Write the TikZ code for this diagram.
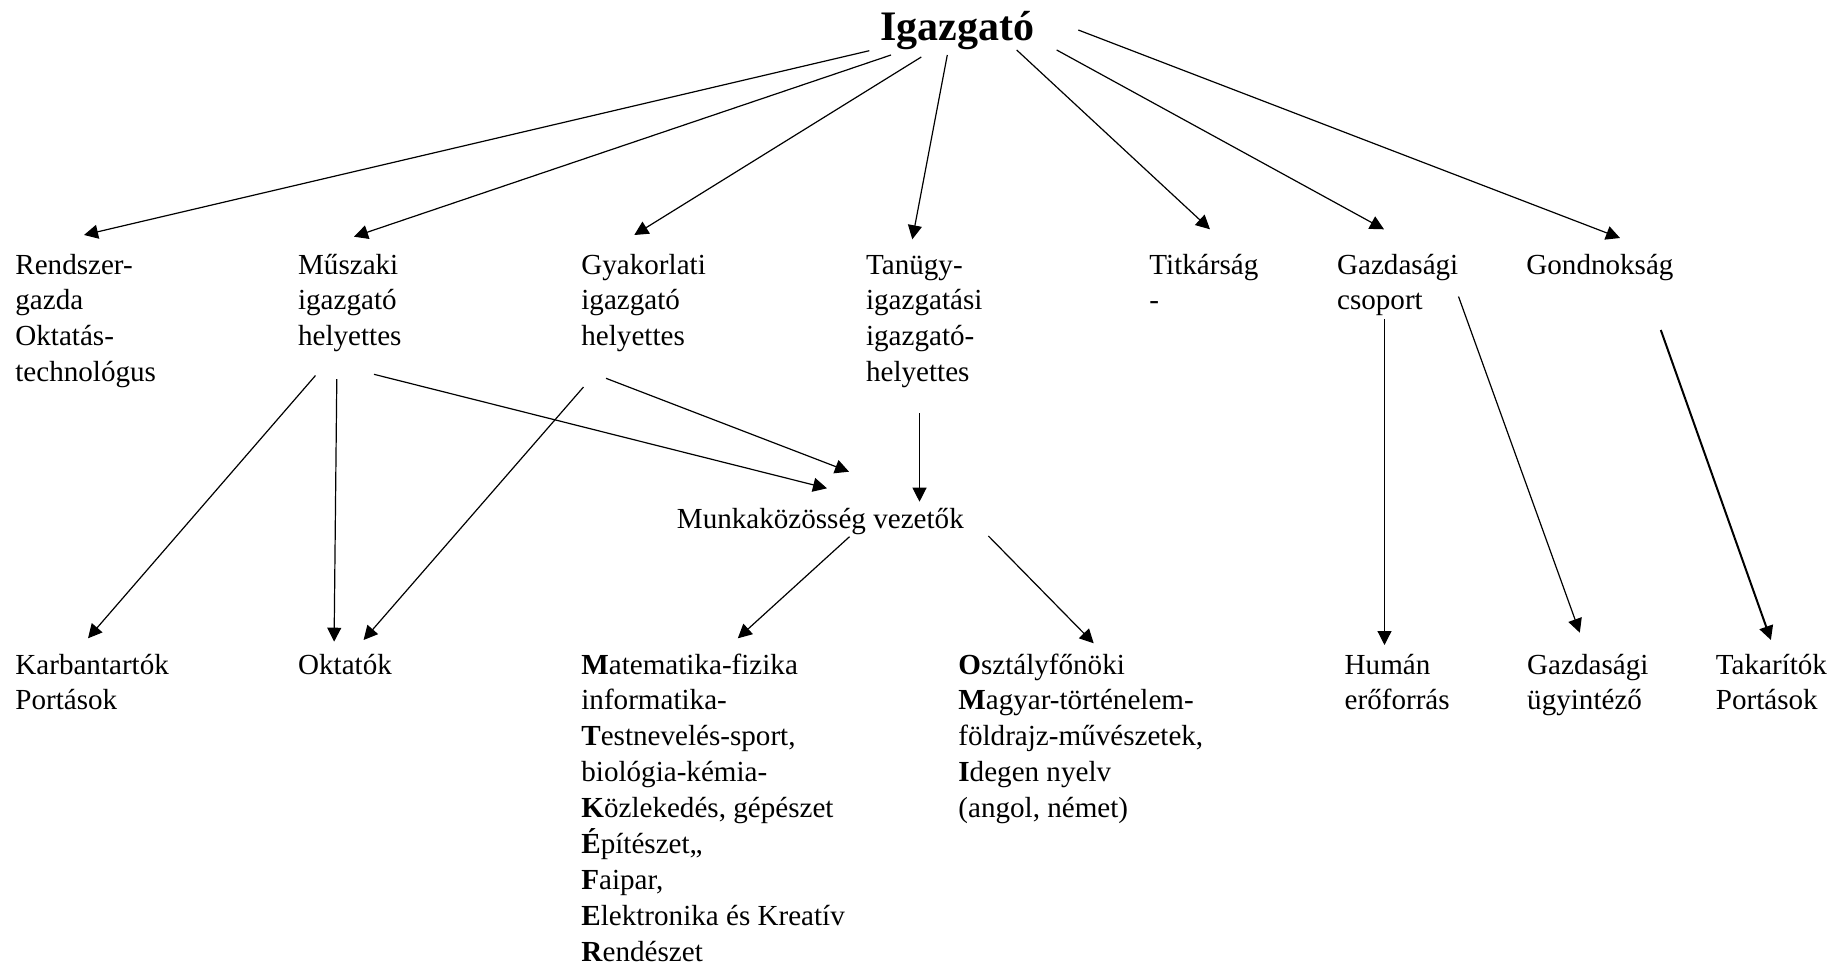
\documentclass[tikz,border=0pt]{standalone}
\usepackage{fontspec}
\setmainfont{Liberation Serif}
\usetikzlibrary{arrows.meta}
\begin{document}
\begin{tikzpicture}[x=0.5pt,y=-0.5pt,
  lbl/.style={anchor=base west, align=left, inner sep=0pt, font=\fontsize{14.55}{17.95}\selectfont},
  headlbl/.style={anchor=base west, inner sep=0pt, font=\fontsize{21}{25}\selectfont\bfseries},
  conn/.style={-{Triangle[length=7pt,width=7pt]}, line width=0.6pt},
  boldconn/.style={conn, line width=1pt}]
\useasboundingbox (0,0) rectangle (1843,970);

% nodes (anchor = baseline of the last line)
\node[headlbl] (ig) at (880,40.7) {Igazgató};
\node[lbl] (rendszer) at (15,381.7) {Rendszer-\\gazda\\Oktatás-\\technológus};
\node[lbl] (muszaki) at (297.7,345.8) {Műszaki\\igazgató\\helyettes};
\node[lbl] (gyak) at (581,345.8) {Gyakorlati\\igazgató\\helyettes};
\node[lbl] (tanugy) at (865.7,381.7) {Tanügy-\\igazgatási\\igazgató-\\helyettes};
\node[lbl] (titk) at (1149,309.9) {Titkárság\\-};
\node[lbl] (gazd) at (1336.7,309.9) {Gazdasági\\csoport};
\node[lbl] (gond) at (1526,274) {Gondnokság};
\node[lbl] (munka) at (676.5,528.3) {Munkaközösség vezetők};
\node[lbl] (karb) at (15,709.9) {Karbantartók\\Portások};
\node[lbl] (okt) at (297.7,674) {Oktatók};
\node[lbl] (mat) at (581,961.2) {\textbf{M}atematika-fizika\\informatika-\\\textbf{T}estnevelés-sport,\\biológia-kémia-\\\textbf{K}özlekedés, gépészet\\\textbf{É}pítészet,,\\\textbf{F}aipar,\\\textbf{E}lektronika és Kreatív\\\textbf{R}endészet};
\node[lbl] (oszt) at (958,817.6) {\textbf{O}sztályfőnöki\\\textbf{M}agyar-történelem-\\földrajz-művészetek,\\\textbf{I}degen nyelv\\(angol, német)};
\node[lbl] (human) at (1344.3,709.9) {Humán\\erőforrás};
\node[lbl] (gazdu) at (1526.8,709.9) {Gazdasági\\ügyintéző};
\node[lbl] (takar) at (1715.5,709.9) {Takarítók\\Portások};

% connector end points
\coordinate (igA) at (869.3,50.7);
\coordinate (igB) at (891,55);
\coordinate (igC) at (921.3,57);
\coordinate (igD) at (947.3,55);
\coordinate (igE) at (1016.7,50);
\coordinate (igF) at (1056.7,50);
\coordinate (igG) at (1078.3,30);
\coordinate (rendszerT) at (84,235);
\coordinate (muszakiT) at (354,236.7);
\coordinate (gyakT) at (634.3,235);
\coordinate (tanugyT) at (912.3,239.3);
\coordinate (titkT) at (1210,229.3);
\coordinate (gazdT) at (1384,229.3);
\coordinate (gondT) at (1620,238);

\coordinate (muszakiA) at (315.5,375.5);
\coordinate (muszakiB) at (336.8,379);
\coordinate (muszakiC) at (374,374.3);
\coordinate (gyakA) at (583.5,387);
\coordinate (gyakB) at (606,378.3);
\coordinate (tanugyA) at (919.5,413.3);
\coordinate (karbT) at (88,638.3);
\coordinate (oktT1) at (334.1,641.7);
\coordinate (oktT2) at (363.6,640);
\coordinate (munkaT1) at (827,488.3);
\coordinate (munkaT2) at (849,471.7);
\coordinate (munkaT3) at (919.5,501.7);
\coordinate (munkaA) at (849.5,536.7);
\coordinate (munkaB) at (988.4,536);
\coordinate (matT) at (737.8,638.3);
\coordinate (osztT) at (1093.7,643.3);
\coordinate (gazdA) at (1384.5,319);
\coordinate (gazdB) at (1458.5,296.5);
\coordinate (humanT) at (1384.5,645);
\coordinate (gazduT) at (1579.8,632.7);
\coordinate (gondA) at (1660.8,330);
\coordinate (takarT) at (1770.9,640);

% connectors
\draw[conn] (igA) -- (rendszerT);
\draw[conn] (igB) -- (muszakiT);
\draw[conn] (igC) -- (gyakT);
\draw[conn] (igD) -- (tanugyT);
\draw[conn] (igE) -- (titkT);
\draw[conn] (igF) -- (gazdT);
\draw[conn] (igG) -- (gondT);
\draw[conn] (muszakiA) -- (karbT);
\draw[conn] (muszakiB) -- (oktT1);
\draw[conn] (muszakiC) -- (munkaT1);
\draw[conn] (gyakA) -- (oktT2);
\draw[conn] (gyakB) -- (munkaT2);
\draw[conn] (tanugyA) -- (munkaT3);
\draw[conn] (munkaA) -- (matT);
\draw[conn] (munkaB) -- (osztT);
\draw[conn] (gazdA) -- (humanT);
\draw[conn] (gazdB) -- (gazduT);
\draw[boldconn] (gondA) -- (takarT);
\end{tikzpicture}
\end{document}
